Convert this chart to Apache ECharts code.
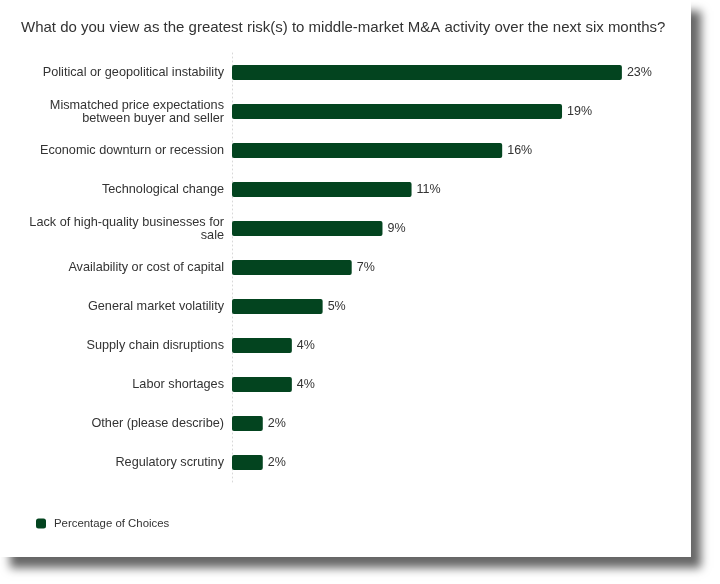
<!DOCTYPE html>
<html>
<head>
    <meta charset="utf-8">
    <title></title>
    <script src="https://cdn.jsdelivr.net/npm/echarts@6/dist/echarts.min.js"></script>
    <style>
        body { margin: 0; background: #fff; }
        #card {
            position: absolute; left: 0; top: 0;
            width: 691px; height: 557px;
            background: #fff;
            box-shadow: 10px 11px 9px rgba(0, 0, 0, 0.6);
        }
    </style>
</head>
<body>
    <div id="card"><div id="main" style="width: 691px;height:557px;"></div></div>
    <script type="text/javascript">
        var myChart = echarts.init(document.getElementById('main'));

// risks, top to bottom
var categories = [
  'Political or geopolitical instability',
  'Mismatched price expectations\nbetween buyer and seller',
  'Economic downturn or recession',
  'Technological change',
  'Lack of high-quality businesses for\nsale',
  'Availability or cost of capital',
  'General market volatility',
  'Supply chain disruptions',
  'Labor shortages',
  'Other (please describe)',
  'Regulatory scrutiny'
]
// percentage of choices
var shares = [22.8, 19.3, 15.8, 10.5, 8.8, 7.0, 5.3, 3.5, 3.5, 1.8, 1.8]
var seriesName = 'Percentage of Choices'
var barColor = '#03441f'

var option = {
  backgroundColor: '#fff',
  textStyle: { fontFamily: 'Liberation Sans, Arial, sans-serif' },
  title: {
    text: 'What do you view as the greatest risk(s) to middle-market M&A activity over the next six months?',
    left: 16,
    top: 15,
    textStyle: {
      color: '#333',
      fontSize: 15,
      fontWeight: 'normal'
    }
  },
  legend: {
    left: 31,
    top: 513,
    itemWidth: 10,
    itemHeight: 10,
    icon: 'roundRect',
    textStyle: { color: '#333', fontSize: 11.4, padding: [0, 0, 0, 3] },
    data: [seriesName]
  },
  grid: {
    left: 232,
    top: 53,
    width: 427.5,
    height: 429
  },
  xAxis: {
    type: 'value',
    min: 0,
    max: 25,
    axisLine: { show: false },
    axisTick: { show: false },
    splitLine: { show: false },
    axisLabel: { show: false }
  },
  yAxis: {
    type: 'category',
    inverse: true,
    data: categories,
    axisLine: {
      show: true,
      lineStyle: { color: '#d8d8d8', type: [1, 3], width: 1 }
    },
    axisTick: { show: false },
    axisLabel: {
      color: '#333',
      fontSize: 12.7,
      lineHeight: 13,
      margin: 8,
      align: 'right'
    }
  },
  series: [{
    name: seriesName,
    type: 'bar',
    data: shares,
    barWidth: 15,
    itemStyle: { color: barColor, borderRadius: 2 },
    label: {
      show: true,
      position: 'right',
      distance: 5,
      color: '#333',
      fontSize: 12.5,
      formatter: function (p) {
        return Math.round(p.value) + '%'
      }
    },
    animation: false
  }]
}
myChart.setOption(option);

    </script>
</body>
</html>
